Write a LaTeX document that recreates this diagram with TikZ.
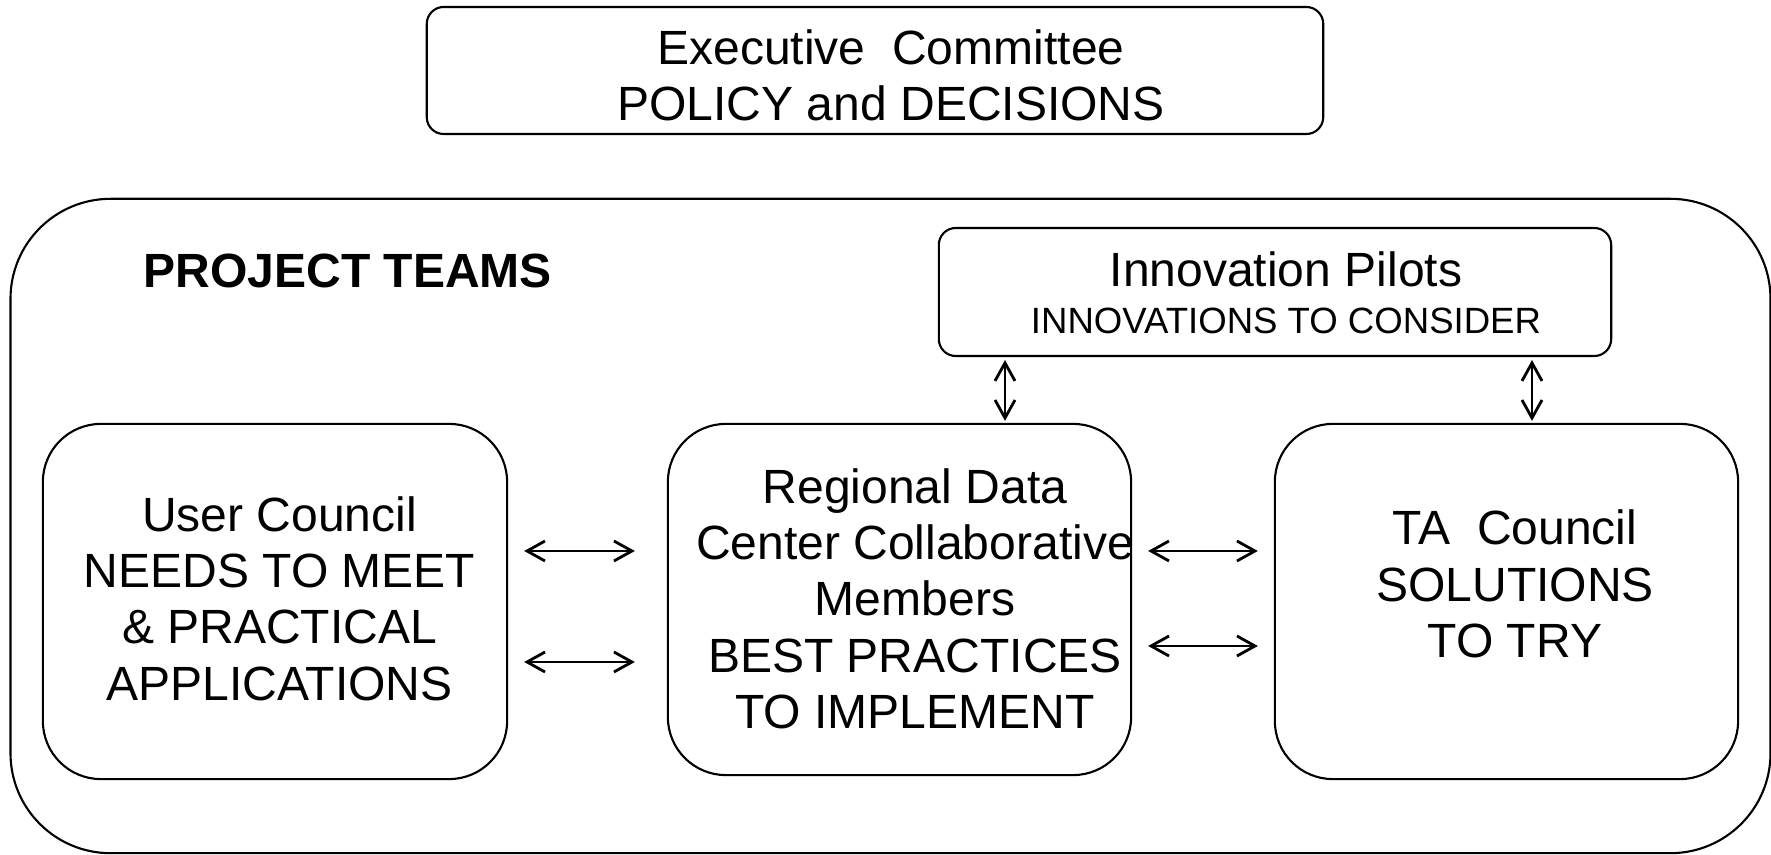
\documentclass[tikz,border=0pt]{standalone}
\usepackage{fontspec}
\setmainfont{Liberation Sans}
\usetikzlibrary{arrows.meta}

\begin{document}
\begin{tikzpicture}[x = 0.01cm, y = -0.01cm,
    box/.style = {draw, line width = 0.6pt, inner sep = 0pt, outer sep = 0pt},
    txt/.style = {align = center, inner sep = 0pt, font = \fontsize{13.66}{16}\selectfont},
    dbl/.style = {{Straight Barb[length = 1.8mm, width = 2mm]}-{Straight Barb[length = 1.8mm, width = 2mm]}, line width = 0.8pt}]
  \useasboundingbox (0,0) rectangle (1771,855);
  % top box
  \node[box, rounded corners = 0.17cm, minimum width = 8.96cm, minimum height = 1.27cm] (exec) at (875,70.5) {};
  \node[txt] (exec-txt) at (891,75.5) {Executive\ \ Committee\\POLICY and DECISIONS};
  % team frame
  \node[box, rounded corners = 1cm, minimum width = 17.59cm, minimum height = 6.54cm] (teams) at (890.5,526) {};
  \node[txt, font = \fontsize{13.66}{16}\selectfont\bfseries, anchor = west] (teams-txt) at (143,271) {PROJECT TEAMS};
  \node[box, rounded corners = 0.17cm, minimum width = 6.72cm, minimum height = 1.28cm] (ip) at (1275,292) {};
  \node[txt, font = \fontsize{10.4}{13.4}\selectfont] (ip-txt) at (1286,292.5) {{\fontsize{13.66}{13.4}\selectfont Innovation Pilots}\\INNOVATIONS TO CONSIDER};
  \node[box, rounded corners = 0.58cm, minimum width = 4.64cm, minimum height = 3.55cm] (uc) at (275,601.5) {};
  \node[txt] (uc-txt) at (279.5,598.6) {User Council\\NEEDS TO MEET\\\& PRACTICAL\\APPLICATIONS};
  \node[box, rounded corners = 0.58cm, minimum width = 4.63cm, minimum height = 3.51cm] (rd) at (899.5,599.5) {};
  \node[txt] (rd-txt) at (915,598.6) {Regional Data\\Center Collaborative\\Members\\BEST PRACTICES\\TO IMPLEMENT};
  \node[box, rounded corners = 0.58cm, minimum width = 4.63cm, minimum height = 3.55cm] (ta) at (1506.5,601.5) {};
  \node[txt] (ta-txt) at (1515,584) {TA\ \ Council\\SOLUTIONS\\TO TRY};
  % links
  \draw[dbl, shorten <= 0.17cm, shorten >= 0.33cm] (uc.east |- 0,551) -- (rd.west |- 0,551);
  \draw[dbl, shorten <= 0.17cm, shorten >= 0.33cm] (uc.east |- 0,662) -- (rd.west |- 0,662);
  \draw[dbl, shorten <= 0.17cm, shorten >= 0.17cm] (rd.east |- 0,551) -- (ta.west |- 0,551);
  \draw[dbl, shorten <= 0.17cm, shorten >= 0.17cm] (rd.east |- 0,646) -- (ta.west |- 0,646);
  \draw[dbl, shorten <= 0.04cm, shorten >= 0.03cm] (ip.south -| 1005,0) -- (rd.north -| 1005,0);
  \draw[dbl, shorten <= 0.04cm, shorten >= 0.03cm] (ip.south -| 1532,0) -- (ta.north -| 1532,0);
\end{tikzpicture}
\end{document}
